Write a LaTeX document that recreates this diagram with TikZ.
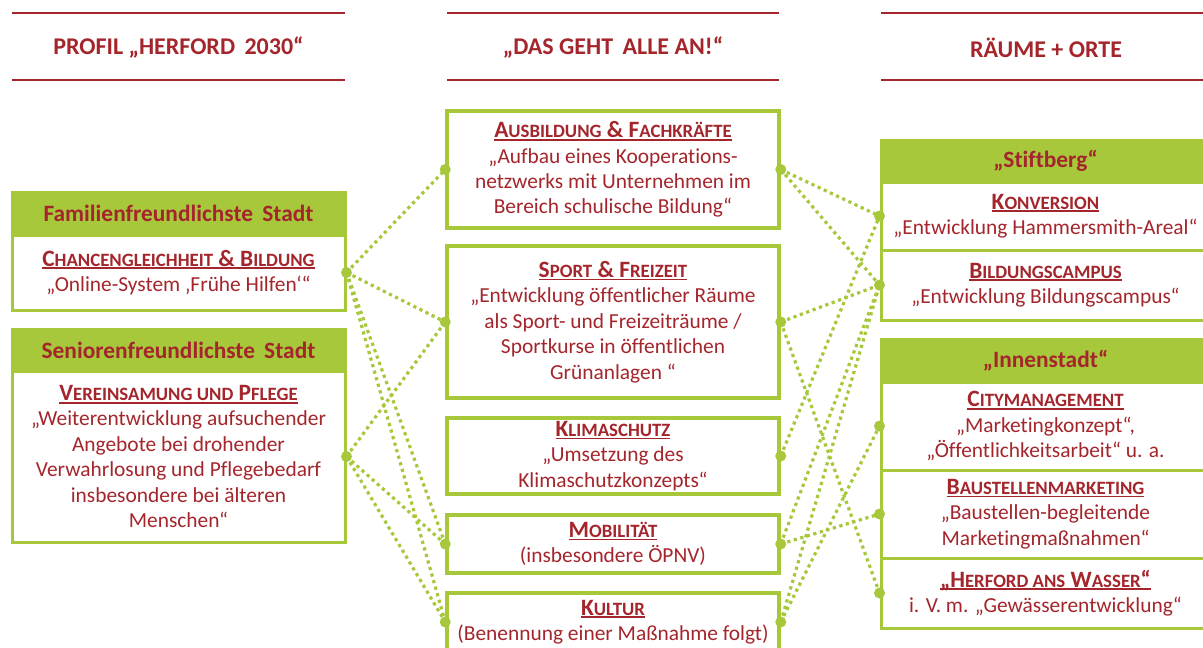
\documentclass[tikz,border=0pt]{standalone}
\usepackage{fontspec}
\setmainfont{Carlito}[Ligatures={NoCommon}]
\definecolor{hgreen}{HTML}{A6C83A}
\definecolor{hred}{HTML}{A4262C}
\newcommand\ulx[1]{\setbox0\hbox{#1}\rlap{\rule[-3pt]{\wd0}{1.7pt}}\box0}
\newcommand\sm[1]{{\fontsize{18.8pt}{25pt}\selectfont #1}}
\newcommand\ttl[1]{\ulx{\fontsize{23.4pt}{25pt}\selectfont\bfseries #1}}
\newcommand\bodyfont{\fontsize{21.4pt}{25.4pt}\selectfont}
\tikzset{
  box/.style={draw=hgreen, fill=white, line width=3pt, inner sep=0pt, align=center,
    text=hred, font=\bodyfont},
  lbox/.style={box, minimum width=333pt},
  mbox/.style={box, line width=3.5pt, minimum width=332pt},
  rbox/.style={box, minimum width=329pt},
  hdr/.style={draw=hgreen, fill=hgreen, line width=3pt, inner sep=0pt, align=center,
    text=hred, font=\fontsize{23.4pt}{26pt}\selectfont\bfseries},
  coltitle/.style={text=hred, font=\fontsize{24pt}{26pt}\selectfont\bfseries},
  redline/.style={draw=hred, line width=2pt},
  conn/.style={draw=hgreen, line width=3.2pt, dash pattern=on 3.2pt off 3.6pt},
  jdot/.style={fill=hgreen, draw=none},
}
\begin{document}
\begin{tikzpicture}[x=1pt, y=-1pt]
\useasboundingbox (0,0) rectangle (1203,648);
% column headers
\draw[redline] (12,13) -- (345,13);
\draw[redline] (12,80) -- (345,80);
\draw[redline] (447,13) -- (779,13);
\draw[redline] (447,80) -- (779,80);
\draw[redline] (881,13) -- (1210,13);
\draw[redline] (881,80) -- (1210,80);
\node[coltitle] (t1) at (178.5,48) {PROFIL „HERFORD\, 2030“};
\node[coltitle] (t2) at (613,48) {„DAS GEHT\, ALLE AN!“};
\node[coltitle] (t3) at (1046,48) {RÄUME + ORTE};
% left column
\node[hdr, minimum width=333pt, minimum height=43pt] (famh) at (178.5,213.5) {Familienfreundlichste\, Stadt};
\node[lbox, minimum height=75pt] (famb) at (178.5,272.5)
  {\ttl{C\sm{HANCENGLEICHHEIT} \& B\sm{ILDUNG}}\\„Online-System ‚Frühe Hilfen‘“};
\node[hdr, minimum width=333pt, minimum height=42pt] (senh) at (178.5,350) {Seniorenfreundlichste\, Stadt};
\node[lbox, minimum height=171pt] (senb) at (178.5,456.5)
  {\ttl{V\sm{EREINSAMUNG UND} P\sm{FLEGE}}\\„Weiterentwicklung aufsuchender\\Angebote bei drohender\\Verwahrlosung und Pflegebedarf\\insbesondere bei älteren\\Menschen“};
% middle column
\node[mbox, minimum height=117pt] (aus) at (613,169.5)
  {\ttl{A\sm{USBILDUNG} \& F\sm{ACHKRÄFTE}}\\„Aufbau eines Kooperations-\\netzwerks mit Unternehmen im\\Bereich schulische Bildung“};
\node[mbox, minimum height=152pt] (spo) at (613,322)
  {\ttl{S\sm{PORT} \& F\sm{REIZEIT}}\\„Entwicklung öffentlicher Räume\\als Sport- und Freizeiträume /\\Sportkurse in öffentlichen\\Grünanlagen “};
\node[mbox, minimum height=76pt] (kli) at (613,456)
  {\ttl{K\sm{LIMASCHUTZ}}\\„Umsetzung des\\Klimaschutzkonzepts“};
\node[mbox, minimum height=58pt] (mob) at (613,544)
  {\ttl{M\sm{OBILITÄT}}\\(insbesondere ÖPNV)};
\node[mbox, minimum height=58pt] (kul) at (613,622)
  {\ttl{K\sm{ULTUR}}\\(Benennung einer Maßnahme folgt)};
% right column
\node[hdr, minimum width=329pt, minimum height=42pt] (stih) at (1045.5,161) {„Stiftberg“};
\node[rbox, minimum height=68pt] (kon) at (1045.5,216)
  {\ttl{K\sm{ONVERSION}}\\„Entwicklung Hammersmith-Areal“};
\node[rbox, minimum height=70pt] (bil) at (1045.5,285)
  {\ttl{B\sm{ILDUNGSCAMPUS}}\\„Entwicklung Bildungscampus“};
\node[hdr, minimum width=329pt, minimum height=43pt] (innh) at (1045.5,360.5) {„Innenstadt“};
\node[rbox, minimum height=88pt] (cit) at (1045.5,426)
  {\ttl{C\sm{ITYMANAGEMENT}}\\„Marketingkonzept“,\\„Öffentlichkeitsarbeit“ u. a.};
\node[rbox, minimum height=88pt] (bau) at (1045.5,514)
  {\ttl{B\sm{AUSTELLENMARKETING}}\\„Baustellen-begleitende\\Marketingmaßnahmen“};
\node[rbox, minimum height=70pt] (was) at (1045.5,593)
  {\ttl{„H\sm{ERFORD ANS} W\sm{ASSER}“}\\i. V. m. „Gewässerentwicklung“};
% connectors
\draw[conn] (famb.east) -- (aus.west);
\draw[conn] (famb.east) -- (spo.west);
\draw[conn] (famb.east) -- (mob.west);
\draw[conn] (famb.east) -- (kul.west);
\draw[conn] (senb.east) -- (spo.west);
\draw[conn] (senb.east) -- (mob.west);
\draw[conn] (senb.east) -- (kul.west);
\draw[conn] (aus.east) -- (kon.west);
\draw[conn] (aus.east) -- (bil.west);
\draw[conn] (spo.east) -- (bil.west);
\draw[conn] (spo.east) -- (was.west);
\draw[conn] (kli.east) -- (kon.west);
\draw[conn] (mob.east) -- (bil.west);
\draw[conn] (mob.east) -- (bau.west);
\draw[conn] (kul.east) -- (bil.west);
\draw[conn] (kul.east) -- (cit.west);
% dots
\foreach \p in {famb.east, senb.east, aus.west, aus.east, spo.west, spo.east, kli.east,
  mob.west, mob.east, kul.west, kul.east, kon.west, bil.west, cit.west, bau.west, was.west}
  \fill[jdot] (\p) circle (5.5pt);
\end{tikzpicture}
\end{document}
